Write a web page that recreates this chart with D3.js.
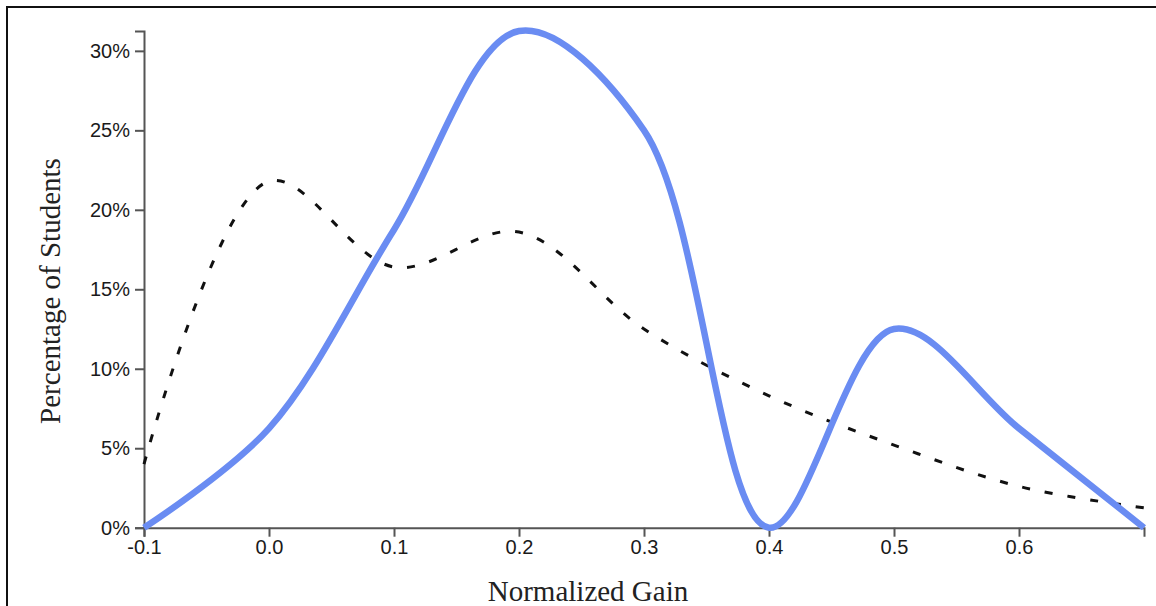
<!DOCTYPE html>
<html>
<head>
<meta charset="utf-8">
<script src="https://cdn.jsdelivr.net/npm/d3@7"></script>
<style>
  html, body { margin: 0; padding: 0; background: #fff; }
  svg { display: block; }
</style>
</head>
<body>
<svg id="chart" width="1156" height="606"></svg>
<script>
// ---- data ----
const gains = [-0.1, 0.0, 0.1, 0.2, 0.3, 0.4, 0.5, 0.6, 0.7];
const solidSeries = [0, 6.25, 18.75, 31.25, 25, 0, 12.5, 6.25, 0];
const dashedSeries = [4.0, 21.8, 16.4, 18.6, 12.5, 8.3, 5.2, 2.6, 1.25];
const xTickValues = [-0.1, 0.0, 0.1, 0.2, 0.3, 0.4, 0.5, 0.6];
const xTickLabels = ["-0.1", "0.0", "0.1", "0.2", "0.3", "0.4", "0.5", "0.6"];
const yTickValues = [0, 5, 10, 15, 20, 25, 30];
const yTickLabels = ["0%", "5%", "10%", "15%", "20%", "25%", "30%"];
const xTitle = "Normalized Gain";
const yTitle = "Percentage of Students";

// ---- layout ----
const svg = d3.select("#chart");
svg.append("rect").attr("width", 1156).attr("height", 606).attr("fill", "#fff");
// frame
svg.append("path")
  .attr("d", "M7,606 L7,7 L1160,7")
  .attr("fill", "none").attr("stroke", "#111").attr("stroke-width", 2);

const x = d3.scaleLinear().domain([d3.min(gains), d3.max(gains)]).range([144, 1144]);
const y = d3.scaleLinear().domain([0, d3.max(solidSeries)]).range([527.7, 31]);

const g = svg.append("g");

const xAxis = d3.axisBottom(x)
  .tickValues(xTickValues)
  .tickFormat((d, i) => xTickLabels[i])
  .tickSize(9).tickSizeOuter(9).tickPadding(3);
const yAxis = d3.axisLeft(y)
  .tickValues(yTickValues)
  .tickFormat((d, i) => yTickLabels[i])
  .tickSize(9).tickSizeOuter(9).tickPadding(5);

const gx = g.append("g").attr("transform", `translate(0,${y(0)})`).call(xAxis);
const gy = g.append("g").attr("transform", `translate(${x(-0.1)},0)`).call(yAxis);

[gx, gy].forEach(a => {
  a.select(".domain").attr("stroke", "#555").attr("stroke-width", 2);
  a.selectAll(".tick line").attr("stroke", "#555").attr("stroke-width", 2);
  a.selectAll(".tick text")
    .attr("fill", "#1a1a1a")
    .style("font-family", "'Liberation Sans', Arial, Helvetica, sans-serif")
    .style("font-size", "20px");
});

// lines
const line = d3.line()
  .x((d, i) => x(gains[i]))
  .y(d => y(d))
  .curve(d3.curveCatmullRom);

g.append("path")
  .datum(dashedSeries)
  .attr("d", line)
  .attr("fill", "none")
  .attr("stroke", "#111")
  .attr("stroke-width", 3)
  .attr("stroke-dasharray", "8,15");

g.append("path")
  .datum(solidSeries)
  .attr("d", line)
  .attr("fill", "none")
  .attr("stroke", "#6a8cf2")
  .attr("stroke-width", 6.5)
  .attr("stroke-linejoin", "round");

// titles
svg.append("text")
  .attr("x", 588).attr("y", 601)
  .attr("text-anchor", "middle")
  .style("font-family", "'Liberation Serif', 'Times New Roman', serif")
  .style("font-size", "29px")
  .attr("fill", "#222")
  .text(xTitle);

svg.append("text")
  .attr("transform", "translate(60,291) rotate(-90)")
  .attr("text-anchor", "middle")
  .style("font-family", "'Liberation Serif', 'Times New Roman', serif")
  .style("font-size", "29px")
  .attr("fill", "#222")
  .text(yTitle);
</script>
</body>
</html>
